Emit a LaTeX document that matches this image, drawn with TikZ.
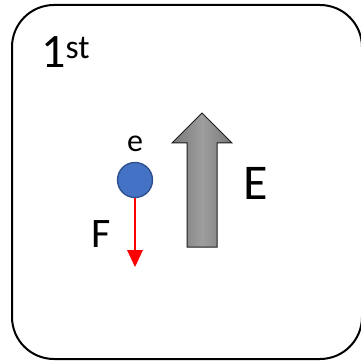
\documentclass[tikz,border=0pt]{standalone}
\usepackage{fontspec}
\setmainfont{Carlito}
\begin{document}
\begin{tikzpicture}[x=1pt,y=-1pt,
  lbl/.style={inner sep=0pt, anchor=base},
  frame/.style={draw=black, line width=2pt, rounded corners=42pt},
  charge/.style={circle, draw={rgb,255:red,47;green,82;blue,143}, line width=1.4pt,
    fill={rgb,255:red,68;green,114;blue,196}, minimum size=35pt, inner sep=0pt},
  force/.style={draw=red, line width=2pt},
  fieldarrow/.style={draw={rgb,255:red,30;green,30;blue,30}, line width=1pt,
    left color={rgb,255:red,120;green,120;blue,120},
    right color={rgb,255:red,120;green,120;blue,120},
    middle color={rgb,255:red,158;green,158;blue,158}}]
\useasboundingbox (0,0) rectangle (360,363);
\fill[white] (0,0) rectangle (360,363);
\draw[frame] (12,5) rectangle (362,359);
\node[lbl, font=\fontsize{48}{54}\selectfont, anchor=base west] (title) at (41,68) {1\textsuperscript{st}};
\node[charge] (e) at (135,180) {};
\node[lbl, font=\fontsize{32}{36}\selectfont] (elbl) at (135,152) {e};
\coordinate (ftip) at (135,267);
\coordinate (fbase) at (135,250);
\draw[force] (e.south) -- (fbase);
\fill[red] (127,250) -- (143,250) -- (ftip) -- cycle;
\node[lbl, font=\fontsize{42}{48}\selectfont] (Flbl) at (101,247) {F};
\path[fieldarrow] (187,247) -- (187,143) -- (172,143) -- (202,113) -- (232,143) -- (217,143) -- (217,247) -- cycle;
\node[lbl, font=\fontsize{50}{56}\selectfont] (Elbl) at (256,199) {E};
\end{tikzpicture}
\end{document}
